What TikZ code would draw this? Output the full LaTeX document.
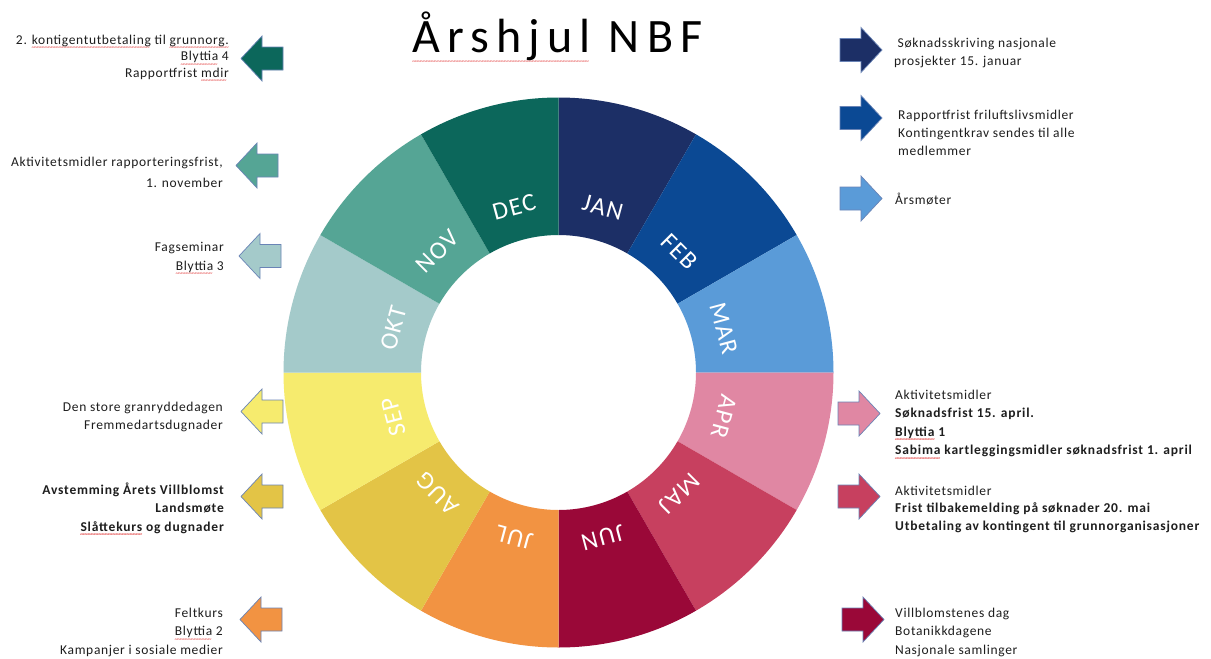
\documentclass[tikz,border=0pt]{standalone}
\usepackage{fontspec}
\setmainfont{Carlito}[LetterSpace=5, BoldFeatures={LetterSpace=6}]
\newfontfamily\titlefont{Carlito}[LetterSpace=15]
\newfontfamily\monthfont{Carlito}[LetterSpace=6]
\newfontfamily\wavefont{Carlito}
\definecolor{cJAN}{HTML}{1C2F66}
\definecolor{cFEB}{HTML}{0B4994}
\definecolor{cMAR}{HTML}{5A9BD8}
\definecolor{cAPR}{HTML}{E087A3}
\definecolor{cMAJ}{HTML}{C7405F}
\definecolor{cJUN}{HTML}{9A0838}
\definecolor{cJUL}{HTML}{F29342}
\definecolor{cAUG}{HTML}{E3C446}
\definecolor{cSEP}{HTML}{F6EB6E}
\definecolor{cOKT}{HTML}{A4CACA}
\definecolor{cNOV}{HTML}{55A595}
\definecolor{cDEC}{HTML}{0C675B}
\definecolor{arrowline}{HTML}{6A84B6}
\definecolor{txt}{HTML}{1E1E1E}
\definecolor{spell}{HTML}{E23A3A}
\newcommand\wavebox[2]{\setbox0=\hbox{#2}\rlap{\smash{\raisebox{#1}{\color{spell}\wavefont\fontsize{7}{7}\selectfont\hbox to \wd0{\leaders\hbox to 2.8pt{\hss\char"7E\hss}\hfill}}}}\box0\relax}
\newcommand\sq[1]{\wavebox{-5.5pt}{#1}}
\newcommand\sqt[1]{\wavebox{-11.5pt}{#1}}
\newcommand\rblk[1]{\begin{tabular}[t]{@{}r@{}}#1\end{tabular}}
\newcommand\lblk[1]{\begin{tabular}[t]{@{}l@{}}#1\end{tabular}}
\tikzset{
  arr/.style={draw=arrowline, line width=0.7pt, line join=miter},
  pics/barrow/.style={code={\path[arr, fill=#1] (0,11.5) -- (21,11.5) -- (21,22.5) -- (42,0) -- (21,-22.5) -- (21,-11.5) -- (0,-11.5) -- cycle;}},
  ltext/.style={anchor=base east, inner sep=0pt, text=txt},
  rtext/.style={anchor=base west, inner sep=0pt, text=txt},
  monthlabel/.style={text=white, inner sep=0pt, font=\monthfont\fontsize{25}{25}\selectfont, text height=16pt, text depth=0pt},
}
\begin{document}
\begin{tikzpicture}[x=1pt,y=1pt]
\useasboundingbox[fill=white] (0,0) rectangle (1211,-659);
% title
\node[anchor=base, inner sep=0pt, font=\titlefont\fontsize{48}{48}\selectfont] (title) at (557.5,-52) {\sqt{Årshjul} NBF};
% wheel
\begin{scope}[shift={(558.5,-372.5)}]
\foreach \m [count=\i from 0] in {JAN,FEB,MAR,APR,MAJ,JUN,JUL,AUG,SEP,OKT,NOV,DEC} {
  \pgfmathsetmacro\angA{90-30*\i}
  \pgfmathsetmacro\angB{60-30*\i}
  \pgfmathsetmacro\angM{75-30*\i}
  \fill[c\m] (\angA:275) arc[start angle=\angA, end angle=\angB, radius=275] -- (\angB:137.5) arc[start angle=\angB, end angle=\angA, radius=137.5] -- cycle;
  \node[monthlabel, rotate=\angM-90] (m\m) at (\angM:171) {\m};
}
\end{scope}
% left arrows
\pic[rotate=180] (aDEC) at (283,-58.5) {barrow=cDEC};
\pic[rotate=180] (aNOV) at (278,-165.5) {barrow=cNOV};
\pic[rotate=180] (aOKT) at (281,-256) {barrow=cOKT};
\pic[rotate=180] (aSEP) at (283,-411.5) {barrow=cSEP};
\pic[rotate=180] (aAUG) at (283,-496.5) {barrow=cAUG};
\pic[rotate=180] (aJUL) at (282,-619.5) {barrow=cJUL};
% right arrows
\pic (aJAN) at (840,-50) {barrow=cJAN};
\pic (aFEB) at (840,-118) {barrow=cFEB};
\pic (aMAR) at (840,-198.5) {barrow=cMAR};
\pic (aAPR) at (838,-413.5) {barrow=cAPR};
\pic (aMAJ) at (838,-496.5) {barrow=cMAJ};
\pic (aJUN) at (842,-619.5) {barrow=cJUN};
% left texts
\node[ltext, font=\fontsize{13.5}{16.5}\selectfont] (tDEC) at (229,-44) {\rblk{2. \sq{kontigentutbetaling} til \sq{grunnorg.}\\\sq{Blyttia} 4\\Rapportfrist \sq{mdir}}};
\node[ltext, font=\fontsize{13.5}{21}\selectfont] (tNOV) at (223,-166) {\rblk{Aktivitetsmidler rapporteringsfrist,\\1. november}};
\node[ltext, font=\fontsize{13.5}{19}\selectfont] (tOKT) at (224,-251) {\rblk{Fagseminar\\\sq{Blyttia} 3}};
\node[ltext, font=\fontsize{13.5}{18}\selectfont] (tSEP) at (223,-411) {\rblk{Den store granryddedagen\\Fremmedartsdugnader}};
\node[ltext, font=\fontsize{13.5}{18.5}\selectfont\bfseries] (tAUG) at (224,-494) {\rblk{Avstemming Årets Villblomst\\Landsmøte\\\sq{Slåttekurs} og dugnader}};
\node[ltext, font=\fontsize{13.5}{18.5}\selectfont] (tJUL) at (223,-617) {\rblk{Feltkurs\\\sq{Blyttia} 2\\Kampanjer i sosiale medier}};
% right texts
\node[rtext, font=\fontsize{13.5}{18}\selectfont] (tJAN) at (894,-47) {\lblk{\hspace{3.5pt}Søknadsskriving nasjonale\\prosjekter 15. januar}};
\node[rtext, font=\fontsize{13.5}{18}\selectfont] (tFEB) at (898,-119) {\lblk{Rapportfrist friluftslivsmidler\\Kontingentkrav sendes til alle\\medlemmer}};
\node[rtext, font=\fontsize{13.5}{18}\selectfont] (tMAR) at (895,-204) {\lblk{Årsmøter}};
\node[rtext, font=\fontsize{13.5}{18.5}\selectfont] (tAPR) at (895,-399) {\lblk{Aktivitetsmidler\\\textbf{Søknadsfrist 15. april.}\\\textbf{\sq{Blyttia} 1}\\\textbf{\sq{Sabima} kartleggingsmidler søknadsfrist 1. april}}};
\node[rtext, font=\fontsize{13.5}{17.5}\selectfont] (tMAJ) at (895,-495) {\lblk{Aktivitetsmidler\\\textbf{Frist tilbakemelding på søknader 20. mai}\\\textbf{Utbetaling av kontingent til grunnorganisasjoner}}};
\node[rtext, font=\fontsize{13.5}{18.5}\selectfont] (tJUN) at (895,-617) {\lblk{Villblomstenes dag\\Botanikkdagene\\Nasjonale samlinger}};
\end{tikzpicture}
\end{document}
